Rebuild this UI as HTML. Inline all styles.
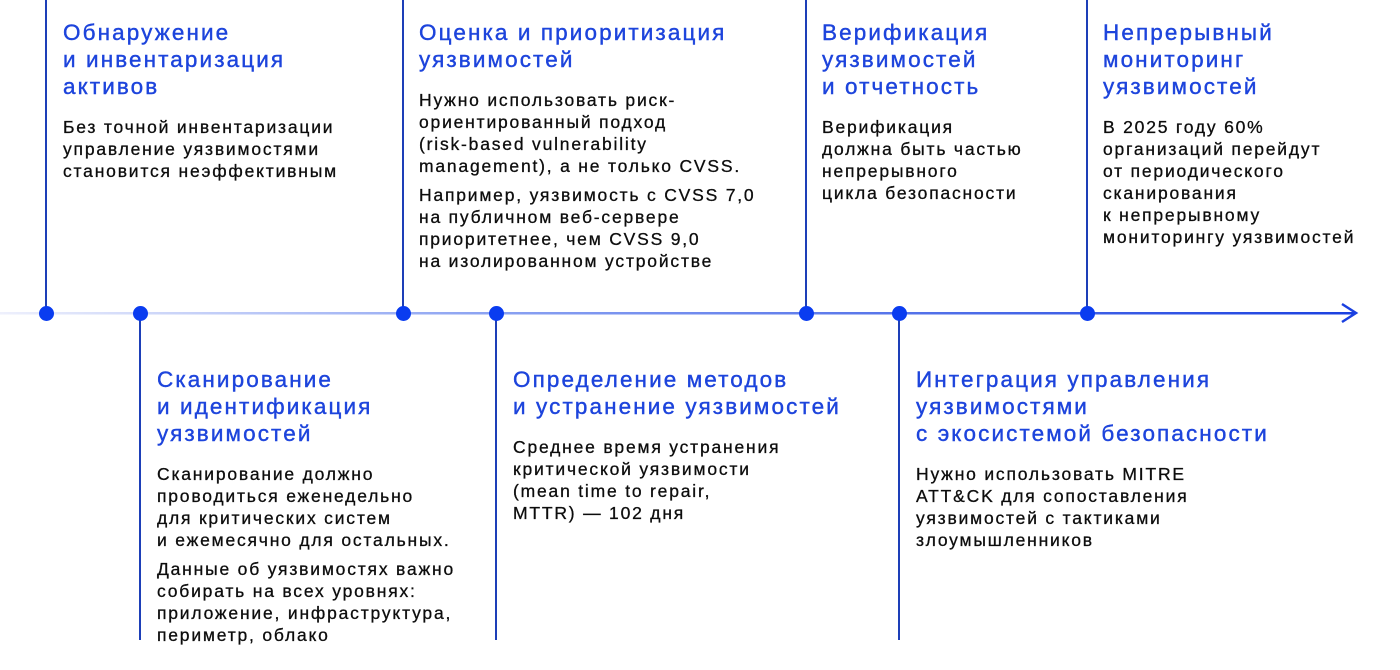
<!DOCTYPE html>
<html><head><meta charset="utf-8"><style>
body{margin:0;width:1400px;height:670px;background:#fff;position:relative;overflow:hidden;font-family:"Liberation Sans",sans-serif}
.b{position:absolute}
.h{color:#1d44dc;font-size:22.5px;line-height:27px;letter-spacing:2.1px;margin:0 0 16px 0;white-space:nowrap;-webkit-text-stroke:0.4px #1d44dc}
.t{color:#0d0d0d;font-size:17.5px;line-height:22px;letter-spacing:1.8px;white-space:nowrap;margin:0 0 7px 0;-webkit-text-stroke:0.3px #0d0d0d}
.v{position:absolute;width:2px;background:#1d3fb8}
.d{position:absolute;width:15px;height:15px;border-radius:50%;background:#0a3cf0;top:306px}
</style></head><body>
<svg class="b" style="left:0;top:0" width="1400" height="670">
<defs><linearGradient id="g" x1="0" x2="1"><stop offset="0" stop-color="#eef0fc"/><stop offset="0.35" stop-color="#8da4f2"/><stop offset="1" stop-color="#1a40e0"/></linearGradient></defs>
<rect x="0" y="312" width="1355" height="2.5" fill="url(#g)"/>
<polyline points="1342,304 1356,313 1342,322" fill="none" stroke="#1a40e0" stroke-width="2.5"/>
</svg>
<div class="v" style="left:45px;top:0;height:313px"></div>
<div class="v" style="left:402px;top:0;height:313px"></div>
<div class="v" style="left:805px;top:0;height:313px"></div>
<div class="v" style="left:1086px;top:0;height:313px"></div>
<div class="v" style="left:139px;top:313px;height:327px"></div>
<div class="v" style="left:495px;top:313px;height:327px"></div>
<div class="v" style="left:898px;top:313px;height:327px"></div>
<div class="d" style="left:39px"></div><div class="d" style="left:133px"></div>
<div class="d" style="left:396px"></div><div class="d" style="left:489px"></div>
<div class="d" style="left:799px"></div><div class="d" style="left:892px"></div>
<div class="d" style="left:1080px"></div>

<div class="b" style="left:63px;top:19px"><div class="h">Обнаружение<br>и инвентаризация<br>активов</div><div class="t">Без точной инвентаризации<br>управление уязвимостями<br>становится неэффективным</div></div>
<div class="b" style="left:419px;top:19px"><div class="h">Оценка и приоритизация<br>уязвимостей</div><div class="t">Нужно использовать риск-<br>ориентированный подход<br>(risk-based vulnerability<br>management), а не только CVSS.</div><div class="t">Например, уязвимость с CVSS 7,0<br>на публичном веб-сервере<br>приоритетнее, чем CVSS 9,0<br>на изолированном устройстве</div></div>
<div class="b" style="left:822px;top:19px"><div class="h">Верификация<br>уязвимостей<br>и отчетность</div><div class="t">Верификация<br>должна быть частью<br>непрерывного<br>цикла безопасности</div></div>
<div class="b" style="left:1103px;top:19px"><div class="h">Непрерывный<br>мониторинг<br>уязвимостей</div><div class="t">В 2025 году 60%<br>организаций перейдут<br>от периодического<br>сканирования<br>к непрерывному<br>мониторингу уязвимостей</div></div>

<div class="b" style="left:157px;top:366px"><div class="h">Сканирование<br>и идентификация<br>уязвимостей</div><div class="t">Сканирование должно<br>проводиться еженедельно<br>для критических систем<br>и ежемесячно для остальных.</div><div class="t">Данные об уязвимостях важно<br>собирать на всех уровнях:<br>приложение, инфраструктура,<br>периметр, облако</div></div>
<div class="b" style="left:513px;top:366px"><div class="h">Определение методов<br>и устранение уязвимостей</div><div class="t">Среднее время устранения<br>критической уязвимости<br>(mean time to repair,<br>MTTR) — 102 дня</div></div>
<div class="b" style="left:916px;top:366px"><div class="h">Интеграция управления<br>уязвимостями<br>с экосистемой безопасности</div><div class="t">Нужно использовать MITRE<br>ATT&amp;CK для сопоставления<br>уязвимостей с тактиками<br>злоумышленников</div></div>
</body></html>
